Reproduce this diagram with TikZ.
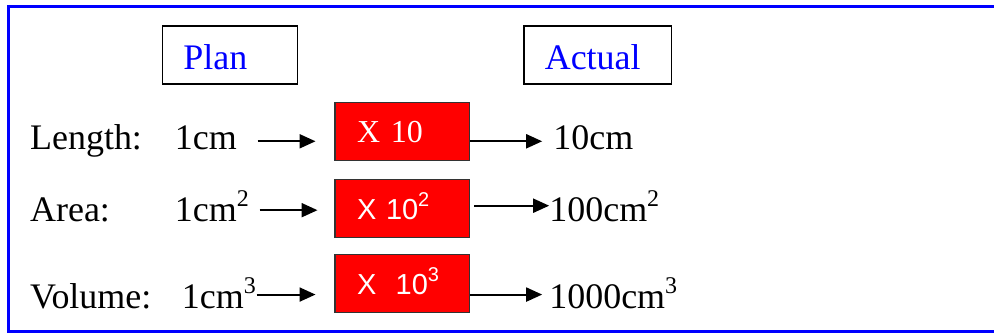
\documentclass[tikz,border=0pt]{standalone}
\usepackage{fontspec}
\setmainfont{Liberation Serif}
\newfontfamily\timesfont{Liberation Serif}
\newfontfamily\arialfont{Liberation Sans}
\usepackage{tikz}
\usetikzlibrary{arrows.meta, positioning}
\definecolor{framecol}{HTML}{0000FF}
\definecolor{boxred}{HTML}{FF0000}
\definecolor{boxedge}{HTML}{333333}
\newcommand{\powr}[1]{\raisebox{0.42em}{\fontsize{24}{24}\selectfont #1}}
\newcommand{\powf}[1]{\raisebox{0.45em}{\fontsize{20}{20}\selectfont #1}}

\begin{document}
\begin{tikzpicture}[
    x=1pt, y=-1pt,
    every node/.style={font=\timesfont\fontsize{36}{40}\selectfont, inner sep=0pt},
    heading/.style={
        rectangle,
        draw=black,
        line width=1.3pt,
        text=framecol,
        inner xsep=21pt,
        text height=44pt,
        text depth=14pt,
        align=left,
        anchor=base west
    },
    factor/.style={
        rectangle,
        draw=boxedge,
        fill=boxred,
        line width=1.2pt,
        text=white,
        font=\timesfont\fontsize{32}{34}\selectfont,
        inner xsep=22pt,
        text width=91pt,
        text height=40pt,
        text depth=18pt,
        align=left,
        anchor=base west
    },
    word/.style={anchor=base west},
    arrow/.style={line width=2pt, -{Triangle[length=16pt, width=14pt]}},
    frameline/.style={draw=framecol, line width=3pt}
]
\fill[white] (0,0) rectangle (995,333);

% outer frame, open on the right
\draw[frameline] (7.5,6.5) -- (995,6.5);
\draw[frameline] (9,5) -- (9,333.5);
\draw[frameline] (7.5,332) -- (995,332);

% headings
\node[heading, text width=93pt] (plan) at (162,70) {Plan};
\node[heading, text width=106pt] (actual) at (524,70) {Actual};

% row labels
\node[word] (length) at (30,150) {Length:};
\node[word] (area) at (30,222) {Area:};
\node[word] (volume) at (30,309) {Volume:};

% plan values
\node[word] (lenplan) at (175,150) {1cm};
\node[word] (areaplan) at (175,222) {1cm\powr{2}};
\node[word] (volplan) at (182,309) {1cm\powr{3}};

% scale factors
\node[factor] (lenfac) at (335,143) {X 10};
\node[factor, font=\arialfont\fontsize{29}{34}\selectfont] (areafac) at (335,220) {X 10\powf{2}};
\node[factor, font=\arialfont\fontsize{29}{34}\selectfont] (volfac) at (335,295) {X\ \ 10\powf{3}};

% actual values
\node[word] (lenact) at (554,150) {10cm};
\node[word] (areaact) at (550,222) {100cm\powr{2}};
\node[word] (volact) at (550,309) {1000cm\powr{3}};

% arrow ends
\coordinate (lenin) at (258,141.5);
\coordinate (lenmid) at (316,141.5);
\coordinate (lenout) at (543,141.5);
\coordinate (areain) at (260,210.5);
\coordinate (areamid) at (318,210.5);
\coordinate (areastart) at (475,206);
\coordinate (areaout) at (550,206);
\coordinate (volin) at (257,295);
\coordinate (volmid) at (316,295);
\coordinate (volout) at (543,295);

\draw[arrow] (lenin) -- (lenmid);
\draw[arrow] (lenfac.east |- lenin) -- (lenout);
\draw[arrow] (areain) -- (areamid);
\draw[arrow] (areastart) -- (areaout);
\draw[arrow] (volin) -- (volmid);
\draw[arrow] (volfac.east |- volin) -- (volout);

\end{tikzpicture}
\end{document}
